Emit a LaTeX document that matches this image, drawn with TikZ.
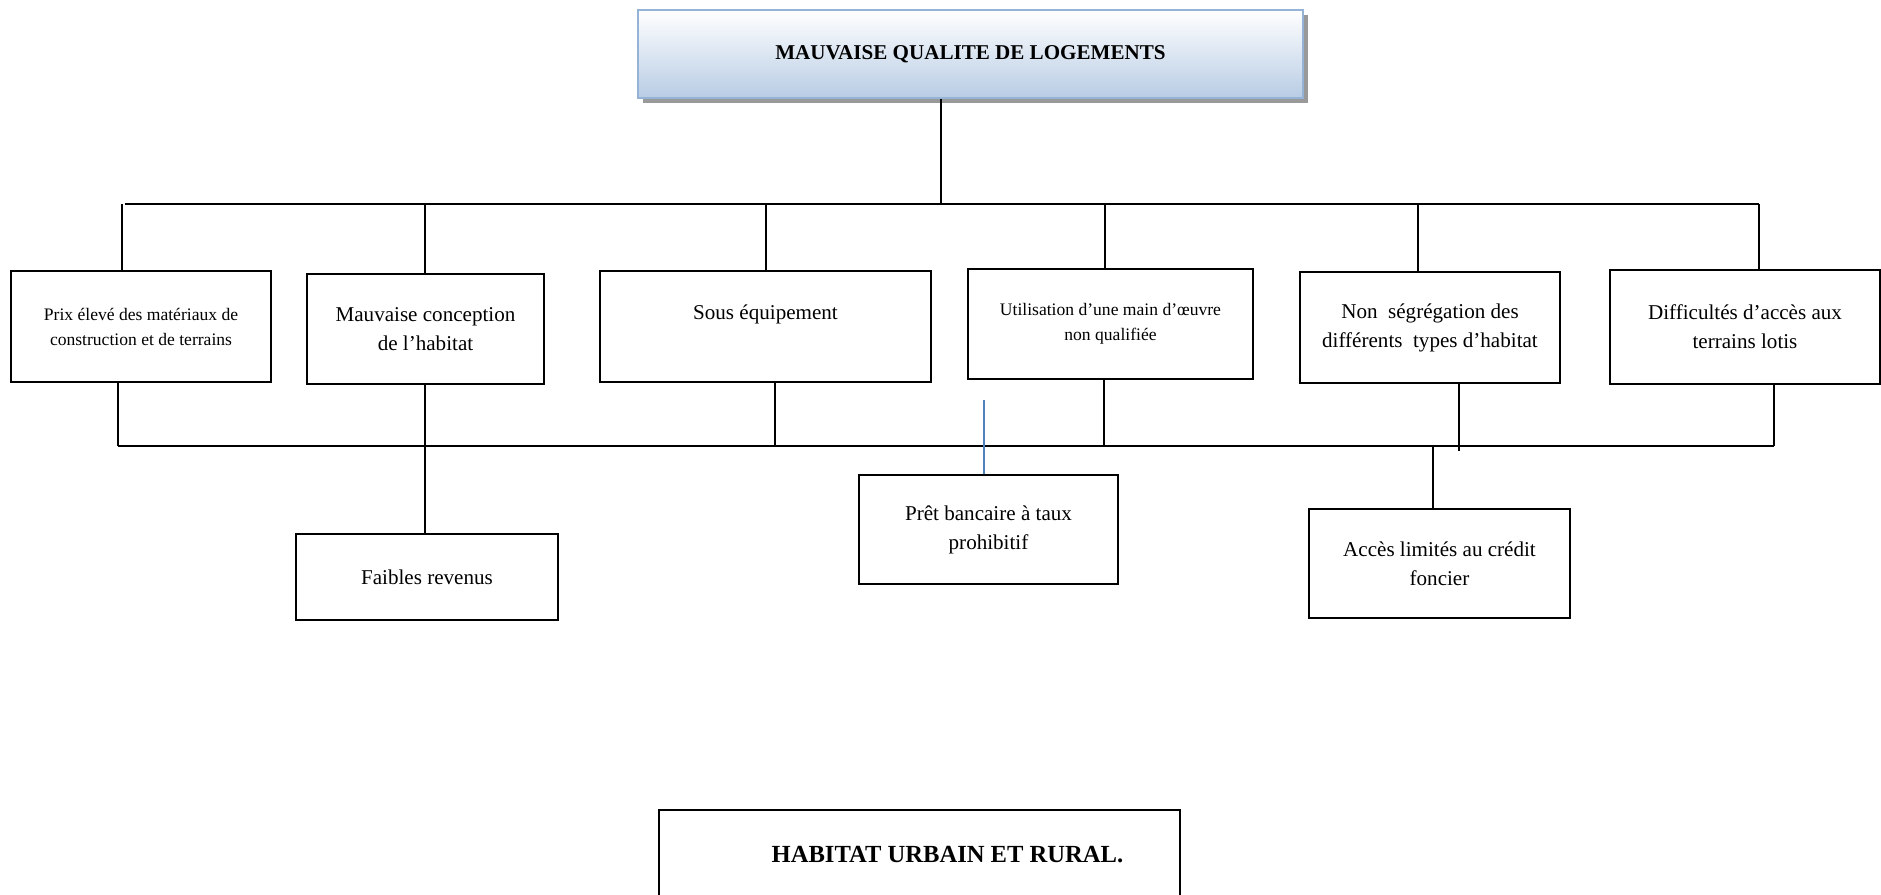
\documentclass[tikz,border=0pt]{standalone}
\usepackage{fontspec}
\setmainfont{Liberation Serif}
\usetikzlibrary{shadows}
\definecolor{titleborder}{RGB}{149,179,215}
\definecolor{titlefill}{RGB}{184,204,228}
\definecolor{linkblue}{RGB}{79,129,189}
\begin{document}
\begin{tikzpicture}
[x=0.02cm,y=-0.02cm,
  boxdecorate/.style 2 args={shape=rectangle,draw,line width=1pt,inner sep=2pt,align=center,
    minimum width=#1*0.02cm,minimum height=#2*0.02cm,font=\fontsize{12}{16.5}\selectfont},
  smalltext/.style={font=\fontsize{10}{14.2}\selectfont},
  linedecorate/.style={-,line width=0.9pt}]
\useasboundingbox (0,0) rectangle (1881,894);
%% title
\node (titre) at (970.5,54) [boxdecorate={665}{88},draw=titleborder,line width=1.5pt,
  top color=white,bottom color=titlefill,
  drop shadow={shadow xshift=0.1cm,shadow yshift=-0.1cm,fill=black!40,opacity=1},
  font=\bfseries\fontsize{12}{14}\selectfont] {MAUVAISE QUALITE DE LOGEMENTS};
%% causes
\node (p1) at (141,326.5) [boxdecorate={260}{111},smalltext] {Prix élevé des matériaux de\\construction et de terrains};
\node (p2) at (425.5,329) [boxdecorate={237}{110}] {Mauvaise conception\\de l’habitat};
\node (p3) at (765.5,326.5) [boxdecorate={331}{111}] {\raisebox{0.58cm}{Sous équipement}};
\node (p4) at (1110.5,324) [boxdecorate={285}{110},smalltext] {Utilisation d’une main d’œuvre\\non qualifiée};
\node (p5) at (1430,327.5) [boxdecorate={260}{111}] {Non\ \ ségrégation des\\différents\ \ types d’habitat};
\node (p6) at (1745,327) [boxdecorate={270}{114}] {Difficultés d’accès aux\\terrains lotis};
\node (faibles) at (427,577) [boxdecorate={262}{86}] {Faibles revenus};
\node (pret) at (988.5,529.5) [boxdecorate={259}{109}] {Prêt bancaire à taux\\prohibitif};
\node (acces) at (1439.5,563.5) [boxdecorate={261}{109}] {Accès limités au crédit\\foncier};
\node (habitat) at (919.5,855) [boxdecorate={521}{90},font=\bfseries\fontsize{14}{16}\selectfont] {\hspace*{1.12cm}HABITAT URBAIN ET RURAL.};
%% bus points
\foreach \cname/\x/\y in {t0/941/204, busTL/125/204, busTR/1759/204,
  t1/122/204, t2/425/204, t3/766/204, t4/1105/204, t5/1418/204, t6/1759/204,
  busBL/118/446, busBR/1774/446,
  b1/118/446, b2/425/446, b3/775/446, b4/1104/446, b5/1459/451, b6/1774/446,
  a5/1433/446, bleu/984/400} {
  \coordinate (\cname) at (\x,\y);
}
%% lines
\draw[linedecorate] (t0 |- titre.south) -- (t0);
\draw[linedecorate] (busTL) -- (busTR);
\draw[linedecorate] (busBL) -- (busBR);
\foreach \tp/\bx in {t1/p1, t2/p2, t3/p3, t4/p4, t5/p5, t6/p6} {
  \draw[linedecorate] (\tp) -- (\tp |- \bx.north);
}
\foreach \bp/\bx in {b1/p1, b3/p3, b4/p4, b5/p5, b6/p6} {
  \draw[linedecorate] (\bp |- \bx.south) -- (\bp);
}
\draw[linedecorate] (b2 |- p2.south) -- (b2 |- faibles.north);
\draw[linedecorate] (a5) -- (a5 |- acces.north);
\draw[-,line width=0.8pt,linkblue] (bleu) -- (bleu |- pret.north);
\end{tikzpicture}
\end{document}
